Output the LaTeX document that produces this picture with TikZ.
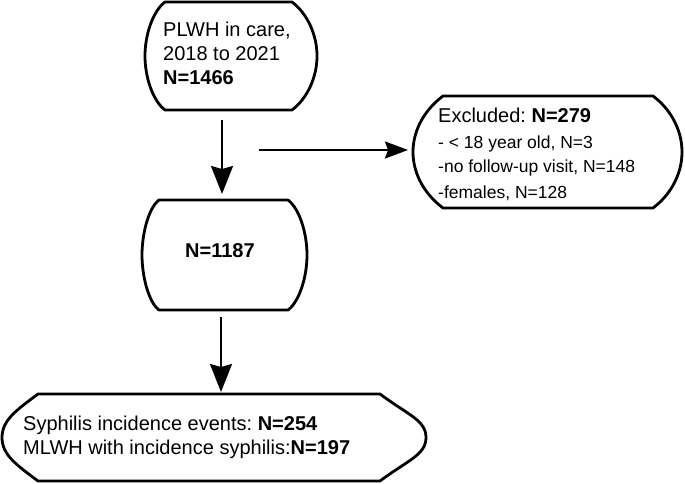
\documentclass[tikz,border=0pt]{standalone}
\usepackage{fontspec}
\setmainfont{Liberation Sans}
\usetikzlibrary{arrows.meta}
\tikzset{
  boxline/.style={line width=2.8pt, line join=round},
  txt/.style={inner sep=0pt, anchor=base west, font=\fontsize{20}{24}\selectfont},
  small/.style={inner sep=0pt, anchor=base west, font=\fontsize{17.5}{21}\selectfont},
  bigarrow/.style={line width=2pt, -{Stealth[length=28pt,width=22pt,inset=3pt]}},
  sidearrow/.style={line width=2pt, -{Stealth[length=23pt,width=17pt,inset=3pt]}}
}
% xl, xr, top, bottom, xmin, xmax
\newcommand\bulgebox[6]{%
 \draw[boxline] (#1,#3) -- (#2,#3)
  .. controls ({#2+0.6*(#6-#2)},{#3+0.45*(#6-#2)}) and ({#6},{#3+0.3*(#4-#3)}) .. ({#6},{(#3+#4)/2})
  .. controls ({#6},{#4-0.3*(#4-#3)}) and ({#2+0.6*(#6-#2)},{#4-0.45*(#6-#2)}) .. (#2,#4)
  -- (#1,#4)
  .. controls ({#1-0.6*(#1-#5)},{#4-0.45*(#1-#5)}) and ({#5},{#4-0.3*(#4-#3)}) .. ({#5},{(#3+#4)/2})
  .. controls ({#5},{#3+0.3*(#4-#3)}) and ({#1-0.6*(#1-#5)},{#3+0.45*(#1-#5)}) .. cycle;}
\begin{document}
\frenchspacing
\begin{tikzpicture}[x=1pt,y=-1pt]
\useasboundingbox (0,0) rectangle (685,484);
% boxes
\bulgebox{165}{292}{2}{110}{145}{317}
\bulgebox{159}{288}{200}{310}{142}{307}
\bulgebox{443}{653}{96}{208}{413}{682}
\bulgebox{38}{380}{394}{481}{2}{426}
% texts
\node[txt] (t1a) at (163,37) {PLWH in care,};
\node[txt] (t1b) at (163,61) {2018 to 2021};
\node[txt] (t1c) at (163,85) {\textbf{N=1466}};
\node[txt] (t2) at (185,257) {\textbf{N=1187}};
\node[txt] (t3a) at (438,123) {Excluded: \textbf{N=279}};
\node[small] (t3b) at (438,148) {- < 18 year old, N=3};
\node[small] (t3c) at (438,172) {-no follow-up visit, N=148};
\node[small] (t3d) at (438,198) {-females, N=128};
\node[txt] (t4a) at (23,430) {Syphilis incidence events: \textbf{N=254}};
\node[txt] (t4b) at (23,454) {MLWH with incidence syphilis:\textbf{N=197}};
% connectors
\coordinate (a1s) at (222,120);
\coordinate (a1e) at (222,194);
\coordinate (a2s) at (221,317);
\coordinate (a2e) at (221,392);
\coordinate (a3s) at (259,150);
\coordinate (a3e) at (408,150);
\draw[bigarrow] (a1s) -- (a1e);
\draw[bigarrow] (a2s) -- (a2e);
\draw[sidearrow] (a3s) -- (a3e);
\end{tikzpicture}
\end{document}
